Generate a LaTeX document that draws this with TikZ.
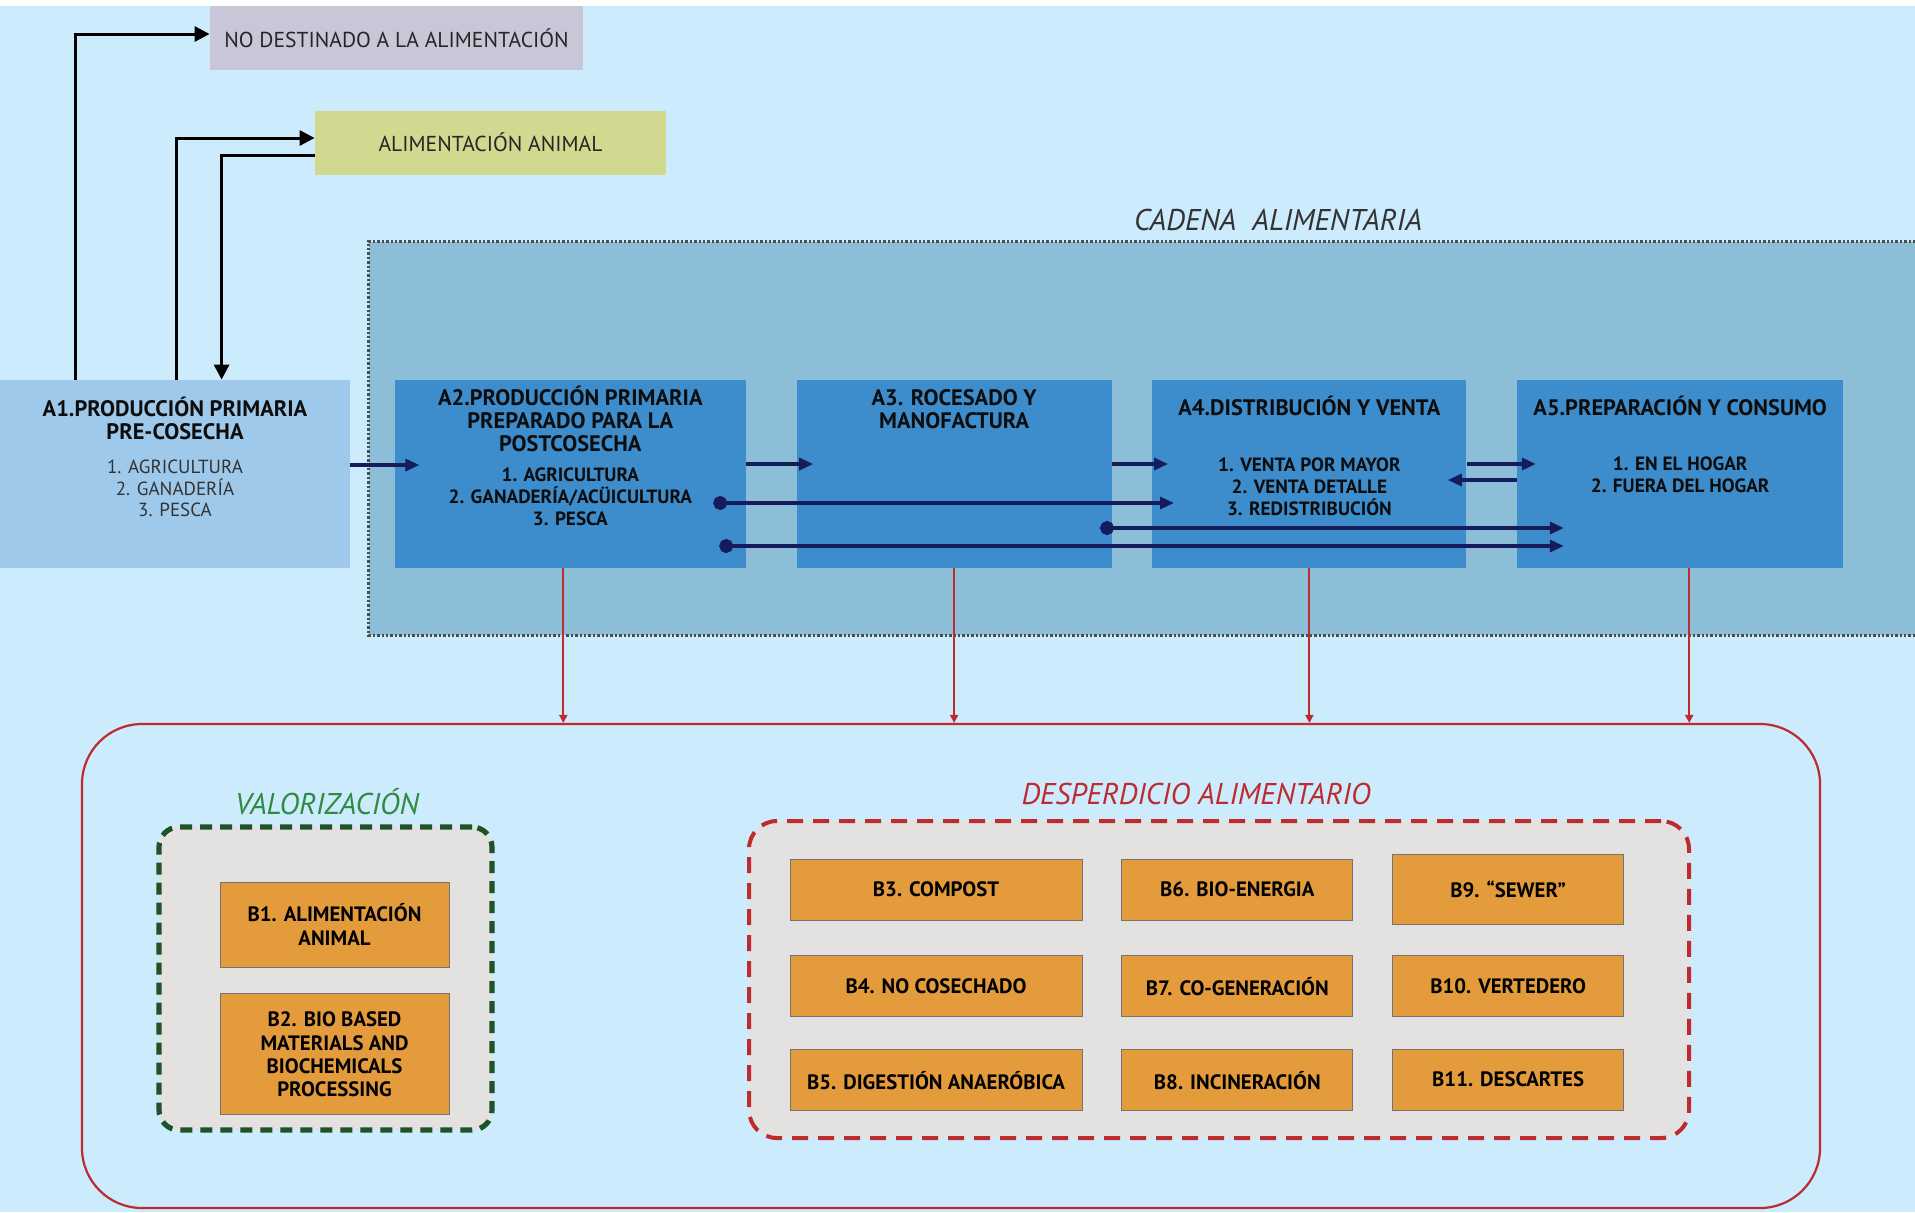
\documentclass[tikz,border=0pt]{standalone}
\usepackage{fontspec}
\setmainfont{PT Sans}
\usetikzlibrary{positioning,arrows.meta,calc}

\definecolor{bgblue}{HTML}{CCEBFD}
\definecolor{nodestgray}{HTML}{C9C6D7}
\definecolor{feedgreen}{HTML}{D1D88F}
\definecolor{a1blue}{HTML}{9FC9EA}
\definecolor{cadenablue}{HTML}{8DBED7}
\definecolor{stageblue}{HTML}{3D8CCB}
\definecolor{navy}{HTML}{161B5C}
\definecolor{wastered}{HTML}{BE2B2E}
\definecolor{panelgray}{HTML}{E3E2E0}
\definecolor{bin}{HTML}{E39B3C}
\definecolor{valgreen}{HTML}{2F8A42}
\definecolor{darkgreen}{HTML}{1F5226}

\begin{document}
\begin{tikzpicture} [
                x=0.5pt, y=-0.5pt,
                outbox/.style={
                    rectangle,
                    minimum height=32pt,
                    inner sep=0pt,
                    text=black!85,
                    font=\fontsize{10.8}{12}\selectfont
                },
                stagebox/.style={
                    rectangle,
                    fill=stageblue,
                    minimum height=94pt,
                    inner sep=0pt
                },
                titletext/.style={
                    align=center,
                    inner sep=0pt,
                    text=black!95,
                    font=\bfseries\fontsize{11.2}{11.5}\selectfont
                },
                listtext/.style={
                    align=center,
                    inner sep=0pt,
                    text=black!95,
                    font=\bfseries\fontsize{9.6}{11}\selectfont
                },
                plainlist/.style={
                    align=center,
                    inner sep=0pt,
                    text=black!80,
                    font=\fontsize{9.5}{10.75}\selectfont
                },
                bbox/.style={
                    rectangle,
                    draw=black!55,
                    fill=bin,
                    minimum width=146pt,
                    minimum height=30.5pt,
                    inner sep=0pt,
                    align=center,
                    font=\bfseries\fontsize{10.4}{11.6}\selectfont
                },
                feedline/.style={
                    draw=black,
                    line width=1.5pt,
                    -{Triangle[length=7.5pt,width=7.5pt]}
                },
                flowline/.style={
                    draw=navy,
                    line width=1.6pt,
                    -{Triangle[length=7pt,width=6pt]}
                },
                dotline/.style={
                    flowline,
                    {Circle[length=7pt]}-{Triangle[length=7pt,width=6pt]}
                },
                wasteline/.style={
                    draw=wastered,
                    line width=1pt,
                    -{Triangle[length=4pt,width=4pt]}
                }
            ]

                \useasboundingbox (0,0) rectangle (1915,1212);
                \fill[bgblue] (0,0) rectangle (1915,1212);
                \fill[white]  (0,0) rectangle (1915,6);

                % outside the food chain
                \node[outbox, fill=nodestgray, minimum width=186.5pt]   (nodest)    at (396.5,38)       {NO DESTINADO A LA ALIMENTACIÓN};
                \node[outbox, fill=feedgreen, minimum width=175.5pt]    (animal)    at (490.5,142.5)    {ALIMENTACIÓN ANIMAL};

                % cadena alimentaria
                \node[rectangle, fill=cadenablue, minimum width=773pt, minimum height=196.5pt, inner sep=0pt] (cadena) at (1142,438.5) {};
                \draw[black!70, line width=1.2pt, densely dotted] (cadena.north east) -- (cadena.north west) -- (cadena.south west) -- (cadena.south east);
                \node[inner sep=0pt, text=black!80, font=\itshape\fontsize{15}{16}\selectfont] (cadenat) at (1278,220) {CADENA\ \ ALIMENTARIA};

                \node[stagebox, fill=a1blue, minimum width=175pt]   (a1)                        at (175,474)    {};
                \node[stagebox, minimum width=175.5pt]              (a2)    [right=22pt of a1]                  {};
                \node[stagebox, minimum width=157.5pt]              (a3)    [right=25pt of a2]                  {};
                \node[stagebox, minimum width=157pt]                (a4)    [right=20pt of a3]                  {};
                \node[stagebox, minimum width=163pt]                (a5)    [right=25pt of a4]                  {};

                \node[titletext]    (a1t)   [below=8.5pt of a1.north]   {A1.PRODUCCIÓN PRIMARIA\\PRE-COSECHA};
                \node[plainlist]    (a1l)   [below=40pt of a1.north]    {1. AGRICULTURA\\2. GANADERÍA\\3. PESCA};
                \node[titletext]    (a2t)   [below=2.8pt of a2.north]   {A2.PRODUCCIÓN PRIMARIA\\PREPARADO PARA LA\\POSTCOSECHA};
                \node[listtext]     (a2l)   [below=44pt of a2.north]    {1. AGRICULTURA\\2. GANADERÍA/ACÜICULTURA\\3. PESCA};
                \node[titletext]    (a3t)   [below=4.5pt of a3.north]   {A3. ROCESADO Y\\MANOFACTURA};
                \node[titletext]    (a4t)   [below=8pt of a4.north]     {A4.DISTRIBUCIÓN Y VENTA};
                \node[listtext]     (a4l)   [below=39pt of a4.north]    {1. VENTA POR MAYOR\\2. VENTA DETALLE\\3. REDISTRIBUCIÓN};
                \node[titletext]    (a5t)   [below=8pt of a5.north]     {A5.PREPARACIÓN Y CONSUMO};
                \node[listtext]     (a5l)   [below=38.5pt of a5.north]  {1. EN EL HOGAR\\2. FUERA DEL HOGAR};

                % feed arrows
                \draw[feedline] ($(a1.north west)+(76,0)$) |- ($(nodest.west)+(0,-4)$);
                \draw[feedline] ($(a1.north west)+(177,0)$) |- ($(animal.west)+(0,-4.5)$);
                \draw[feedline] ($(animal.west)+(0,13)$) -| ($(a1.north west)+(222,0)$);

                % flow through the chain
                \draw[flowline] ($(a1.east)+(0,-9)$)    -- ($(a2.west)+(25,-9)$);
                \draw[flowline] ($(a2.east)+(0,-10)$)   -- ($(a3.west)+(17,-10)$);
                \draw[flowline] ($(a3.east)+(0,-10)$)   -- ($(a4.west)+(16,-10)$);
                \draw[flowline] ($(a4.east)+(0,-10)$)   -- ($(a5.west)+(19,-10)$);
                \draw[flowline] ($(a5.west)+(0,6)$)     -- ($(a4.east)+(-19,6)$);
                \draw[dotline]  ($(a2.east)+(-33,29)$)  -- ($(a4.west)+(22,29)$);
                \draw[dotline]  ($(a3.east)+(-12,54)$)  -- ($(a5.west)+(47,54)$);
                \draw[dotline]  ($(a2.east)+(-27,72)$)  -- ($(a5.west)+(47,72)$);

                % waste
                \node[rectangle, rounded corners=30pt, draw=wastered, line width=1.1pt, minimum width=869pt, minimum height=242pt] (waste) at (951,966) {};

                \draw[wasteline] ($(a2.south)+(-7,0)$) -- ($(a2.south |- waste.north)+(-7,0)$);
                \draw[wasteline] (a3.south) -- (a3.south |- waste.north);
                \draw[wasteline] (a4.south) -- (a4.south |- waste.north);
                \draw[wasteline] ($(a5.south)+(9,0)$) -- ($(a5.south |- waste.north)+(9,0)$);

                \node[inner sep=0pt, text=valgreen, font=\itshape\fontsize{15}{16}\selectfont] (valt) at (327,802) {VALORIZACIÓN};
                \node[rectangle, rounded corners=10pt, fill=panelgray, draw=darkgreen, line width=2.6pt, dash pattern=on 6pt off 4pt, minimum width=166.5pt, minimum height=151.5pt] (valp) at (325.5,978.5) {};

                \node[bbox, minimum width=114.5pt, minimum height=42.5pt]   (b1)    at (334.5,924.5)        {B1. ALIMENTACIÓN\\ANIMAL};
                \node[bbox, minimum width=114.5pt, minimum height=60.5pt]   (b2)    [below=13pt of b1]      {B2. BIO BASED\\MATERIALS AND\\BIOCHEMICALS\\PROCESSING};

                \node[inner sep=0pt, text=wastered, font=\itshape\fontsize{15}{16}\selectfont] (despt) at (1196,794) {DESPERDICIO ALIMENTARIO};
                \node[rectangle, rounded corners=14pt, fill=panelgray, draw=wastered, line width=2pt, dash pattern=on 8pt off 5pt, minimum width=470pt, minimum height=158.5pt] (desp) at (1219,979.5) {};

                \node[bbox]                                             (b3)    at (936,889.5)          {B3. COMPOST};
                \node[bbox]                                             (b4)    [below=17.5pt of b3]    {B4. NO COSECHADO};
                \node[bbox]                                             (b5)    [below=16pt of b4]      {B5. DIGESTIÓN ANAERÓBICA};
                \node[bbox, minimum width=115.5pt]                      (b6)    [right=19.5pt of b3]    {B6. BIO-ENERGIA};
                \node[bbox, minimum width=115.5pt]                      (b7)    [below=17.5pt of b6]    {B7. CO-GENERACIÓN};
                \node[bbox, minimum width=115.5pt]                      (b8)    [below=16pt of b7]      {B8. INCINERACIÓN};
                \node[bbox, minimum width=115.5pt, minimum height=35pt] (b9)    [right=19.5pt of b6]    {B9. “SEWER”};
                \node[bbox, minimum width=115.5pt]                      (b10)   [below=15pt of b9]      {B10. VERTEDERO};
                \node[bbox, minimum width=115.5pt]                      (b11)   [below=16pt of b10]     {B11. DESCARTES};

            \end{tikzpicture}
\end{document}
